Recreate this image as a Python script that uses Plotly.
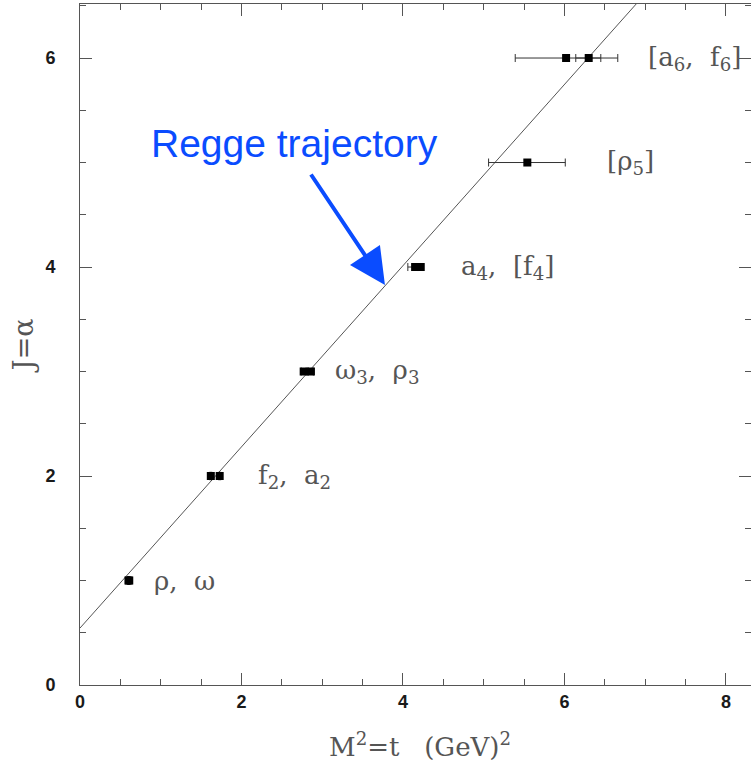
import plotly.graph_objects as go

# Meson states on the leading Regge trajectory
states = ["ρ", "ω", "f2", "a2", "ω3", "ρ3", "a4", "f4", "ρ5", "a6", "f6"]
spin_J = [1, 1, 2, 2, 3, 3, 4, 4, 5, 6, 6]
mass_sq = [0.60, 0.61, 1.62, 1.73, 2.77, 2.86, 4.15, 4.22, 5.54, 6.02, 6.30]
err_minus = [0.0, 0.0, 0.0, 0.0, 0.03, 0.03, 0.09, 0.03, 0.48, 0.63, 0.16]
err_plus = [0.0, 0.0, 0.0, 0.0, 0.03, 0.03, 0.03, 0.03, 0.47, 0.64, 0.15]
spin_err = [0.04, 0.04, 0.04, 0.04, 0.03, 0.03, 0.0, 0.0, 0.0, 0.0, 0.0]

# Linear trajectory  alpha(t) = alpha0 + slope * t
alpha0 = 0.545
slope = 0.867
line_t = [0.0, 8.33]
line_alpha = [alpha0 + slope * t for t in line_t]

# Multiplet labels: (text, t position, J)
label_text = [
    "ρ,&nbsp;&nbsp;ω",
    "f<sub>2</sub>,&nbsp;&nbsp;a<sub>2</sub>",
    "ω<sub>3</sub>,&nbsp;&nbsp;ρ<sub>3</sub>",
    "a<sub>4</sub>,&nbsp;&nbsp;[f<sub>4</sub>]",
    "[ρ<sub>5</sub>]",
    "[a<sub>6</sub>,&nbsp;&nbsp;f<sub>6</sub>]",
]
label_t = [0.89, 2.18, 3.13, 4.69, 6.50, 7.01]
label_J = [1.0, 2.0, 3.0, 4.0, 5.0, 6.0]

# Axis ticks
x_ticks = [0, 2, 4, 6, 8]
y_ticks = [0, 2, 4, 6]
x_range = [0, 8.31]
y_range = [0, 6.517]

fig = go.Figure()

fig.add_trace(go.Scatter(
    x=line_t, y=line_alpha, mode="lines",
    line=dict(color="#555555", width=1), hoverinfo="skip", showlegend=False,
))

fig.add_trace(go.Scatter(
    x=mass_sq, y=spin_J, mode="markers", text=states,
    marker=dict(symbol="square", size=8, color="black"),
    error_x=dict(type="data", symmetric=False, array=err_plus, arrayminus=err_minus,
                 color="#333333", thickness=1, width=4),
    error_y=dict(type="data", array=spin_err, color="black", thickness=3, width=0),
    showlegend=False,
))

annotations = []
for txt, tx, ty in zip(label_text, label_t, label_J):
    annotations.append(dict(
        x=tx, y=ty, text=txt, showarrow=False, xanchor="left", yanchor="middle",
        font=dict(family="DejaVu Serif", size=26, color="#555555"),
    ))

# Callout naming the line
annotations.append(dict(
    x=3.777, y=3.828, xref="x", yref="y", ax=-75, ay=-112,
    text="", showarrow=True, arrowhead=2, arrowsize=1.8, arrowwidth=4,
    arrowcolor="#0a4cff",
))
annotations.append(dict(
    x=0.319, y=0.795, xref="paper", yref="paper", text="Regge trajectory",
    showarrow=False, xanchor="center", yanchor="middle",
    font=dict(family="Arial", size=39, color="#0a4cff"),
))

# Axis titles
annotations.append(dict(
    x=0.506, y=-0.088, xref="paper", yref="paper",
    text="M<sup>2</sup>=t&nbsp;&nbsp;&nbsp;(GeV)<sup>2</sup>",
    showarrow=False, xanchor="center", yanchor="middle",
    font=dict(family="DejaVu Serif", size=26, color="#555555"),
))
annotations.append(dict(
    x=-0.085, y=0.499, xref="paper", yref="paper", text="J=α", textangle=-90,
    showarrow=False, xanchor="center", yanchor="middle",
    font=dict(family="DejaVu Serif", size=27, color="#555555"),
))

axis_common = dict(
    showline=True, linecolor="#555555", linewidth=1, mirror="ticks",
    ticks="inside", ticklen=12, tickcolor="#555555", tickwidth=1,
    showgrid=False, zeroline=False,
    tickfont=dict(family="Liberation Sans", size=18, color="#1a1a1a"),
)

fig.update_layout(
    width=751, height=769,
    margin=dict(l=80, r=0, t=4, b=84),
    paper_bgcolor="white", plot_bgcolor="white",
    annotations=annotations,
    xaxis=dict(range=x_range, tickmode="array", tickvals=x_ticks,
               ticktext=[f"<b>{v}</b>" for v in x_ticks],
               minor=dict(dtick=0.5, tick0=0, ticks="inside", ticklen=6, tickcolor="#555555"),
               **axis_common),
    yaxis=dict(range=y_range, tickmode="array", tickvals=y_ticks,
               ticktext=[f"<b>{v}</b>" for v in y_ticks], ticklabelstandoff=20,
               minor=dict(dtick=0.5, tick0=0, ticks="inside", ticklen=6, tickcolor="#555555"),
               **axis_common),
)

fig.write_html("out.html")
